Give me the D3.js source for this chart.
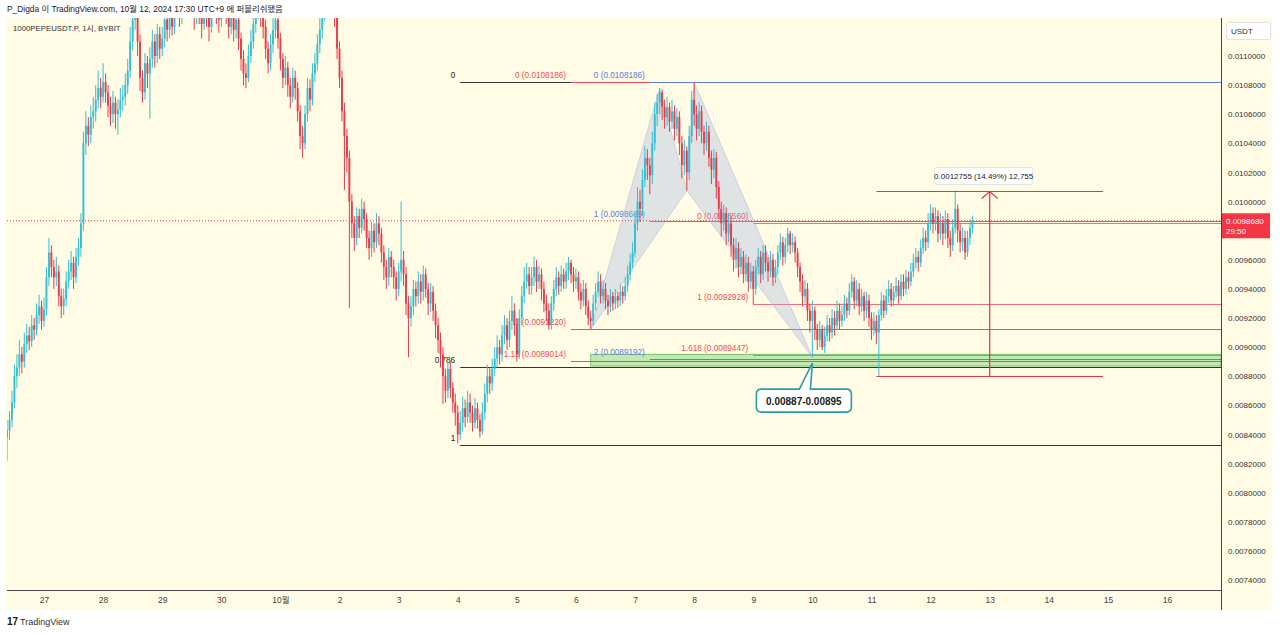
<!DOCTYPE html>
<html><head><meta charset="utf-8">
<script src="https://cdn.jsdelivr.net/npm/d3@7"></script>
<style>
body{margin:0;background:#fff;}
svg text{font-family:"Liberation Sans",Arial,"Noto Sans CJK KR",sans-serif;}
</style></head><body>
<svg id="c" width="1280" height="634"></svg>
<script>
// ---------------- DATA ----------------
const firstTime = new Date(2024, 8, 26, 9); // first hourly candle
const firstOpen = 0.00838;
const closes = [
.00843,.00850,.00862,.00880,.00886,.00895,.00890,.00902,.00908,.00904,
.00915,.00912,.00922,.00928,.00918,.00926,.00948,.00965,.00955,.00948,
.00952,.00935,.00928,.00933,.00945,.00952,.00958,.00948,.00962,.00968,
.00985,.01040,.01052,.01046,.01058,.01062,.01070,.01078,.01072,.01082,
.01075,.01066,.01060,.01068,.01060,.01063,.01070,.01072,.01080,.01090,
.01110,.01125,.01135,.01110,.01085,.01075,.01095,.01088,.01098,.01110,
.01100,.01115,.01105,.01112,.01125,.01118,.01128,.01120,.01132,.01140,
.01128,.01135,.01142,.01150,.01145,.01135,.01128,.01138,.01130,.01122,
.01135,.01128,.01120,.01132,.01140,.01130,.01125,.01135,.01142,.01130,
.01120,.01128,.01118,.01125,.01112,.01098,.01088,.01085,.01100,.01110,
.01122,.01130,.01138,.01128,.01120,.01105,.01095,.01108,.01118,.01125,
.01112,.01098,.01085,.01092,.01080,.01072,.01085,.01078,.01062,.01045,
.01040,.01060,.01078,.01070,.01088,.01095,.01108,.01118,.01130,.01138,
.01145,.01135,.01140,.01128,.01105,.01085,.01062,.01045,.01030,.01000,
.00985,.00975,.00990,.00982,.00995,.00988,.00975,.00968,.00980,.00972,
.00985,.00978,.00965,.00955,.00948,.00962,.00955,.00948,.00940,.00952,
.00960,.00950,.00930,.00920,.00928,.00940,.00935,.00945,.00938,.00950,
.00940,.00930,.00938,.00925,.00915,.00905,.00895,.00880,.00870,.00885,
.00872,.00862,.00855,.00840,.00848,.00858,.00852,.00862,.00855,.00848,
.00858,.00850,.00842,.00855,.00868,.00880,.00875,.00885,.00892,.00900,
.00895,.00908,.00915,.00905,.00918,.00925,.00915,.00895,.00920,.00935,
.00945,.00950,.00942,.00948,.00955,.00945,.00950,.00940,.00930,.00925,
.00915,.00930,.00940,.00948,.00942,.00950,.00945,.00952,.00958,.00950,
.00945,.00948,.00938,.00932,.00940,.00928,.00920,.00918,.00930,.00938,
.00945,.00935,.00940,.00932,.00928,.00935,.00930,.00935,.00932,.00938,
.00935,.00942,.00950,.00958,.00965,.00985,.01000,.00995,.01015,.01030,
.01025,.01018,.01040,.01060,.01068,.01075,.01065,.01058,.01065,.01055,
.01062,.01050,.01058,.01040,.01025,.01035,.01020,.01045,.01070,.01060,
.01050,.01062,.01048,.01040,.01048,.01030,.01022,.01030,.01010,.00995,
.00985,.00992,.00978,.00985,.00970,.00960,.00968,.00955,.00962,.00950,
.00958,.00945,.00952,.00940,.00955,.00962,.00950,.00965,.00958,.00952,
.00960,.00948,.00955,.00965,.00972,.00962,.00970,.00978,.00970,.00972,
.00965,.00955,.00945,.00935,.00940,.00925,.00918,.00925,.00912,.00905,
.00912,.00900,.00908,.00915,.00910,.00920,.00915,.00925,.00918,.00922,
.00930,.00925,.00938,.00945,.00932,.00940,.00928,.00935,.00925,.00932,
.00920,.00912,.00918,.00910,.00922,.00932,.00925,.00935,.00940,.00932,
.00938,.00942,.00935,.00945,.00940,.00948,.00945,.00952,.00958,.00962,
.00958,.00968,.00975,.00972,.00985,.00992,.00985,.00990,.00978,.00985,
.00978,.00988,.00975,.00970,.00982,.00995,.00980,.00972,.00975,.00965,
.00975,.00982,.009868];
const highs = [
.00850,.00856,.00870,.00888,.00895,.00905,.00900,.00910,.00916,.00914,
.00922,.00920,.00930,.00936,.00932,.00934,.00955,.00975,.00970,.00960,
.00962,.00956,.00940,.00940,.00952,.00960,.00966,.00962,.00968,.00975,
.00992,.01048,.01062,.01058,.01066,.01072,.01080,.01090,.01085,.01095,
.01088,.01080,.01072,.01076,.01072,.01070,.01078,.01080,.01088,.01098,
.01120,.01140,.01150,.01142,.01115,.01090,.01102,.01100,.01106,.01118,
.01115,.01122,.01120,.01120,.01132,.01130,.01136,.01134,.01140,.01148,
.01145,.01142,.01150,.01158,.01156,.01150,.01140,.01145,.01142,.01135,
.01142,.01140,.01132,.01140,.01148,.01145,.01136,.01142,.01150,.01146,
.01135,.01136,.01132,.01132,.01130,.01116,.01104,.01095,.01108,.01118,
.01130,.01138,.01148,.01142,.01134,.01125,.01110,.01115,.01126,.01132,
.01130,.01116,.01102,.01100,.01096,.01085,.01092,.01090,.01082,.01066,
.01052,.01066,.01085,.01084,.01095,.01102,.01115,.01126,.01138,.01146,
.01155,.01150,.01148,.01145,.01132,.01110,.01090,.01068,.01050,.01035,
.01005,.00990,.00996,.00995,.01002,.01000,.00992,.00980,.00986,.00985,
.00992,.00990,.00982,.00970,.00960,.00968,.00966,.00960,.00952,.00958,
.01000,.00966,.00955,.00935,.00935,.00946,.00945,.00952,.00950,.00956,
.00954,.00944,.00944,.00942,.00930,.00920,.00910,.00900,.00885,.00890,
.00890,.00876,.00868,.00860,.00856,.00866,.00864,.00870,.00868,.00860,
.00865,.00862,.00854,.00862,.00875,.00888,.00886,.00892,.00900,.00908,
.00905,.00915,.00922,.00920,.00925,.00935,.00930,.00920,.00926,.00942,
.00955,.00958,.00955,.00955,.00962,.00960,.00956,.00954,.00945,.00936,
.00930,.00935,.00946,.00955,.00952,.00956,.00954,.00958,.00962,.00960,
.00955,.00954,.00952,.00944,.00946,.00944,.00932,.00925,.00936,.00944,
.00952,.00950,.00946,.00944,.00936,.00940,.00938,.00940,.00938,.00943,
.00942,.00948,.00956,.00964,.00972,.00992,.01010,.01008,.01022,.01038,
.01036,.01030,.01048,.01068,.01074,.01078,.01077,.01070,.01072,.01068,
.01070,.01066,.01064,.01062,.01045,.01042,.01038,.01052,.01076,.0108186,
.01066,.01068,.01066,.01052,.01055,.01052,.01035,.01036,.01034,.01014,
.01000,.00998,.00996,.00992,.00990,.00975,.00975,.00972,.00968,.00966,
.00964,.00962,.00958,.00956,.00960,.00968,.00966,.00970,.00970,.00962,
.00966,.00964,.00960,.00970,.00978,.00976,.00975,.00982,.00980,.00978,
.00976,.00968,.00958,.00950,.00946,.00944,.00930,.00932,.00928,.00916,
.00918,.00915,.00914,.00922,.00920,.00926,.00925,.00932,.00930,.00928,
.00936,.00934,.00944,.00950,.00948,.00946,.00944,.00940,.00938,.00938,
.00936,.00924,.00924,.00922,.00926,.00938,.00936,.00940,.00946,.00944,
.00942,.00948,.00946,.00950,.00950,.00953,.00952,.00958,.00964,.00968,
.00966,.00974,.00982,.00980,.00992,.00998,.00996,.00996,.00994,.00992,
.00990,.00994,.00992,.00980,.00988,.010076,.00998,.00985,.00982,.00980,
.00980,.00988,.00990];
const lows = [
.00822,.00836,.00845,.00858,.00872,.00880,.00882,.00886,.00896,.00898,
.00900,.00905,.00908,.00916,.00912,.00914,.00922,.00942,.00948,.00940,
.00942,.00928,.00920,.00922,.00928,.00940,.00946,.00940,.00944,.00956,
.00962,.00980,.01032,.01038,.01040,.01050,.01055,.01064,.01064,.01068,
.01068,.01058,.01052,.01054,.01050,.01046,.01058,.01062,.01066,.01074,
.01085,.01104,.01118,.01100,.01076,.01068,.01070,.01078,.01057,.01092,
.01092,.01095,.01098,.01100,.01106,.01110,.01112,.01114,.01115,.01126,
.01120,.01122,.01130,.01136,.01138,.01128,.01118,.01122,.01122,.01112,
.01118,.01120,.01110,.01116,.01126,.01122,.01116,.01120,.01130,.01122,
.01112,.01115,.01110,.01112,.01104,.01090,.01080,.01078,.01082,.01095,
.01105,.01116,.01125,.01120,.01112,.01098,.01088,.01090,.01102,.01112,
.01105,.01090,.01078,.01080,.01072,.01064,.01068,.01070,.01055,.01036,
.01030,.01036,.01055,.01062,.01066,.01082,.01090,.01102,.01112,.01124,
.01132,.01128,.01128,.01120,.01098,.01078,.01055,.01008,.01020,.00927,
.00975,.00966,.00970,.00975,.00978,.00980,.00968,.00960,.00962,.00965,
.00968,.00970,.00958,.00946,.00940,.00942,.00948,.00940,.00932,.00935,
.00945,.00942,.00922,.00893,.00914,.00922,.00928,.00930,.00930,.00932,
.00934,.00922,.00924,.00918,.00906,.00896,.00886,.00861,.00862,.00865,
.00865,.00855,.00846,.00834,.00836,.00842,.00845,.00848,.00848,.00842,
.00844,.00844,.00838,.00840,.00850,.00862,.00868,.00870,.00880,.00886,
.00888,.00890,.00902,.00898,.00900,.00912,.00908,.00890,.00892,.00915,
.00930,.00940,.00936,.00936,.00942,.00938,.00940,.00932,.00924,.00918,
.00912,.00912,.00925,.00935,.00936,.00938,.00940,.00940,.00946,.00944,
.00938,.00940,.00932,.00926,.00928,.00922,.00915,.009122,.00915,.00925,
.00934,.00930,.00930,.00926,.00922,.00924,.00925,.00926,.00927,.00928,
.00930,.00932,.00938,.00946,.00954,.00962,.00980,.00986,.00990,.01010,
.01015,.01005,.01012,.01035,.01052,.01060,.01056,.01050,.01052,.01048,
.01050,.01042,.01045,.01032,.01016,.01018,.010076,.01015,.01040,.01052,
.01042,.01045,.01040,.01032,.01035,.01024,.01012,.01016,.01002,.00988,
.00976,.00980,.00970,.00972,.00962,.00952,.00954,.00948,.00950,.00944,
.00945,.00938,.00940,.0092928,.00936,.00950,.00944,.00946,.00952,.00945,
.00948,.00942,.00944,.00950,.00960,.00956,.00958,.00965,.00964,.00965,
.00958,.00948,.00938,.00928,.00930,.00918,.00910,.00893,.00905,.00898,
.00900,.00898,.00896,.00904,.00904,.00906,.00908,.00912,.00912,.00914,
.00918,.00920,.00922,.00934,.00926,.00928,.00922,.00924,.00918,.00920,
.00914,.00905,.00908,.00902,.00880,.00918,.00920,.00922,.00930,.00928,
.00928,.00934,.00930,.00932,.00935,.00936,.00940,.00942,.00948,.00954,
.00952,.00955,.00964,.00966,.00968,.00980,.00978,.00980,.00972,.00974,
.00970,.00974,.00968,.00962,.00966,.00978,.00972,.00965,.00966,.00960,
.00962,.00970,.00978];

const dayTicks = [
  new Date(2024,8,27),new Date(2024,8,28),new Date(2024,8,29),new Date(2024,8,30),
  new Date(2024,9,1),new Date(2024,9,2),new Date(2024,9,3),new Date(2024,9,4),
  new Date(2024,9,5),new Date(2024,9,6),new Date(2024,9,7),new Date(2024,9,8),
  new Date(2024,9,9),new Date(2024,9,10),new Date(2024,9,11),new Date(2024,9,12),
  new Date(2024,9,13),new Date(2024,9,14),new Date(2024,9,15),new Date(2024,9,16)];
const dayLabels = ["27","28","29","30","10월","2","3","4","5","6","7","8","9","10","11","12","13","14","15","16"];
// 0.0098 is hidden behind the last-price label in the reference
const priceTicks = [0.0074,0.0076,0.0078,0.0080,0.0082,0.0084,0.0086,0.0088,0.0090,0.0092,
  0.0094,0.0096,0.0100,0.0102,0.0104,0.0106,0.0108,0.0110];

// Fibonacci tools: level labels, level prices, start time
const fibBlackLevels = ["0","0.786","1"];
const fibBlackPrices = [0.0108186,0.0088626,0.0083300];
const fibBlackStart = new Date(2024,9,4,1);
const fibRedLevels = ["0","1","1.13"];
const fibRedPrices = [0.0108186,0.0091220,0.0089014];
const fibRedStart = new Date(2024,9,5,22);
const fibBlueLevels = ["0","1","2"];
const fibBluePrices = [0.0108186,0.0098689,0.0089192];
const fibBlueStart = new Date(2024,9,7,6);
const fibRed2Levels = ["0","1","1.618"];
const fibRed2Prices = [0.0098560,0.0092928,0.0089447];
const fibRed2Start = new Date(2024,9,9,0);

// XABCD pattern points
const patternTimes = [new Date(2024,9,6,6),new Date(2024,9,7,10),new Date(2024,9,7,21),new Date(2024,9,8,0),new Date(2024,9,10,0)];
const patternPrices = [0.009122,0.010780,0.010076,0.0108186,0.008930];

// zone rectangle and callout
const zoneLow = 0.00887, zoneHigh = 0.00895;
const zoneStart = new Date(2024,9,6,6);
const calloutText = "0.00887-0.00895";
const calloutTime = new Date(2024,9,10,0);
const calloutPrice = 0.00889;

// price range measurement
const measureLow = 0.0088000, measureHigh = 0.0100755;
const measureStart = new Date(2024,9,11,2), measureEnd = new Date(2024,9,14,22), measureMid = new Date(2024,9,13,0);
const measureText = "0.0012755 (14.49%) 12,755";

const lastPrice = 0.0098680, countdown = "29:50";
const headerText = "P_Digda 이 TradingView.com, 10월 12, 2024 17:30 UTC+9 에 퍼블리쉬됐음";
const symbolText = "1000PEPEUSDT.P, 1시, BYBIT";

// ---------------- DRAW ----------------
const svg = d3.select('#c');
const P = {l:7, r:1221, t:18, b:590};
const upC = '#33bfd4', dnC = '#e73c4c', redL = '#ef4d5b', blueL = '#5a7fdc', blackL = '#333';

svg.append('rect').attr('x',6).attr('y',18).attr('width',1266).attr('height',592).attr('fill','#fffbe5');

const xs = d3.scaleTime().domain([dayTicks[0], dayTicks[dayTicks.length-1]]).range([44,1167]);
const ys = d3.scaleLinear().domain([0.0074,0.0110]).range([580,56]);

svg.append('defs').append('clipPath').attr('id','pc').append('rect')
  .attr('x',P.l).attr('y',P.t).attr('width',P.r-P.l).attr('height',P.b-P.t);
const g = svg.append('g').attr('clip-path','url(#pc)');

// zone rectangle
g.append('rect').attr('x',xs(zoneStart)).attr('y',ys(zoneHigh))
  .attr('width',P.r-xs(zoneStart)).attr('height',ys(zoneLow)-ys(zoneHigh))
  .attr('fill','#c3e8b2').attr('stroke','#72c46e').attr('stroke-width',1);

function fib(levels, prices, start, color, showPrice, labelColor){
  const x0 = xs(start);
  levels.forEach((lv,i)=>{
    const y = Math.round(ys(prices[i]))+0.5;
    g.append('line').attr('x1',x0).attr('x2',P.r).attr('y1',y).attr('y2',y)
      .attr('stroke',color).attr('stroke-width',1);
    g.append('text').attr('x',x0-5).attr('y',y-5).attr('text-anchor','end')
      .attr('font-size',8.2).attr('fill',labelColor||color)
      .text(showPrice ? `${lv} (${prices[i].toFixed(7)})` : lv);
  });
}
fib(fibBlackLevels, fibBlackPrices, fibBlackStart, blackL, false, '#222');
fib(fibRedLevels, fibRedPrices, fibRedStart, redL, true);
fib(fibBlueLevels, fibBluePrices, fibBlueStart, blueL, true);
fib(fibRed2Levels, fibRed2Prices, fibRed2Start, '#ef6f78', true, redL);

// XABCD pattern
const pts = patternTimes.map((t,i)=>[xs(t), ys(patternPrices[i])]);
[[0,1,2],[2,3,4]].forEach(tri=>{
  g.append('path').attr('d', d3.line()(tri.map(k=>pts[k]))+'Z')
    .attr('fill','#9cb0e0').attr('fill-opacity',0.32)
    .attr('stroke','#a9b6de').attr('stroke-opacity',0.5).attr('stroke-width',1);
});

// candles
const candles = closes.map((c,i)=>{
  const o = i ? closes[i-1] : firstOpen;
  return {t:d3.timeHour.offset(firstTime,i), o, c, h:Math.max(highs[i],o,c), l:Math.min(lows[i],o,c)};
});
const cg = g.append('g');
const bw = 1.9;
candles.forEach(d=>{
  const col = d.c >= d.o ? upC : dnC;
  const x = xs(d.t);
  cg.append('line').attr('x1',x).attr('x2',x).attr('y1',ys(d.h)).attr('y2',ys(d.l))
    .attr('stroke',col).attr('stroke-width',1);
  const y1 = ys(Math.max(d.o,d.c)), y2 = ys(Math.min(d.o,d.c));
  cg.append('rect').attr('x',x-bw/2).attr('y',y1).attr('width',bw).attr('height',Math.max(1,y2-y1)).attr('fill',col);
});

// last price dotted line
const yLast = ys(lastPrice);
g.append('line').attr('x1',P.l).attr('x2',P.r).attr('y1',yLast).attr('y2',yLast)
  .attr('stroke','#f23645').attr('stroke-width',1).attr('stroke-dasharray','1,2');

// measurement
const mx0 = xs(measureStart), mx1 = xs(measureEnd), mxm = xs(measureMid);
const myT = Math.round(ys(measureHigh))+0.5, myB = Math.round(ys(measureLow))+0.5;
const mCol = '#e33545';
g.append('line').attr('x1',mx0).attr('x2',mx1).attr('y1',myT).attr('y2',myT).attr('stroke',mCol).attr('stroke-width',1.2);
g.append('line').attr('x1',mx0).attr('x2',mx1).attr('y1',myB).attr('y2',myB).attr('stroke',mCol).attr('stroke-width',1.2);
g.append('line').attr('x1',mxm).attr('x2',mxm).attr('y1',myB).attr('y2',myT).attr('stroke',mCol).attr('stroke-width',1.2);
g.append('path').attr('d',`M${mxm-8},${myT+7}L${mxm},${myT}L${mxm+8},${myT+7}`).attr('fill','none').attr('stroke',mCol).attr('stroke-width',1.2);
const mw = 98, mh = 17;
g.append('rect').attr('x',mxm-6-mw/2).attr('y',myT-24).attr('width',mw).attr('height',mh).attr('rx',2)
  .attr('fill','#fff').attr('stroke','#e4e4e4');
g.append('text').attr('x',mxm-6).attr('y',myT-12.5).attr('text-anchor','middle').attr('font-size',8).attr('fill','#222').text(measureText);

// callout
const tx = xs(calloutTime), ty = ys(calloutPrice);
const bl = tx-56, bt = ty+26, bwid = 95, bht = 23, r = 5, br = bl+bwid, bb = bt+bht;
const cp = `M${bl+r},${bt}L${tx-13},${bt}L${tx},${ty}L${tx-2},${bt}L${br-r},${bt}Q${br},${bt} ${br},${bt+r}L${br},${bb-r}Q${br},${bb} ${br-r},${bb}L${bl+r},${bb}Q${bl},${bb} ${bl},${bb-r}L${bl},${bt+r}Q${bl},${bt} ${bl+r},${bt}Z`;
g.append('path').attr('d',cp).attr('fill','#fff').attr('stroke','#2a9fa2').attr('stroke-width',1.6);
g.append('text').attr('x',bl+bwid/2).attr('y',bt+15.5).attr('text-anchor','middle')
  .attr('font-size',10).attr('font-weight','bold').attr('fill','#222').text(calloutText);

// axes frame
svg.append('line').attr('x1',P.l).attr('x2',P.r+1).attr('y1',P.b+0.5).attr('y2',P.b+0.5).attr('stroke','#444');
svg.append('line').attr('x1',P.r+0.5).attr('x2',P.r+0.5).attr('y1',P.t).attr('y2',610).attr('stroke','#444');

// bottom axis
const xa = svg.append('g').attr('transform',`translate(0,${P.b})`)
  .call(d3.axisBottom(xs).tickValues(dayTicks).tickFormat((d,i)=>dayLabels[i]).tickSize(0).tickPadding(7));
xa.select('.domain').remove();
xa.selectAll('text').attr('font-size',8.5).attr('fill','#444').attr('font-family','"Liberation Sans","Noto Sans CJK KR",sans-serif');

// right axis
const ya = svg.append('g').attr('transform',`translate(${P.r},0)`)
  .call(d3.axisRight(ys).tickValues(priceTicks).tickFormat(d=>d.toFixed(7)).tickSize(0).tickPadding(7));
ya.select('.domain').remove();
ya.selectAll('text').attr('font-size',8).attr('fill','#333').attr('font-family','"Liberation Sans",sans-serif');

// USDT box
svg.append('rect').attr('x',1226.5).attr('y',22.5).attr('width',44).attr('height',17).attr('rx',2).attr('fill','#fff').attr('stroke','#e2e2e2');
svg.append('text').attr('x',1231).attr('y',34).attr('font-size',8).attr('fill','#333').text('USDT');

// last price label
svg.append('rect').attr('x',P.r+1).attr('y',yLast-7.5).attr('width',48).attr('height',25).attr('fill','#f23645');
svg.append('text').attr('x',1226).attr('y',yLast+3).attr('font-size',8).attr('fill','#fff').text(lastPrice.toFixed(7));
svg.append('text').attr('x',1226).attr('y',yLast+13).attr('font-size',8).attr('fill','#fff').text(countdown);

// header & titles
svg.append('text').attr('x',7).attr('y',12).attr('font-size',8.4).attr('fill','#1a1a1a').text(headerText);
svg.append('text').attr('x',13).attr('y',31).attr('font-size',7.8).attr('fill','#333').text(symbolText);

// TradingView footer
svg.append('text').attr('x',7).attr('y',625).attr('font-size',10).attr('font-weight','bold').attr('fill','#131722').text('17');
svg.append('text').attr('x',20).attr('y',625).attr('font-size',9).attr('fill','#333').text('TradingView');
</script>
</body></html>
